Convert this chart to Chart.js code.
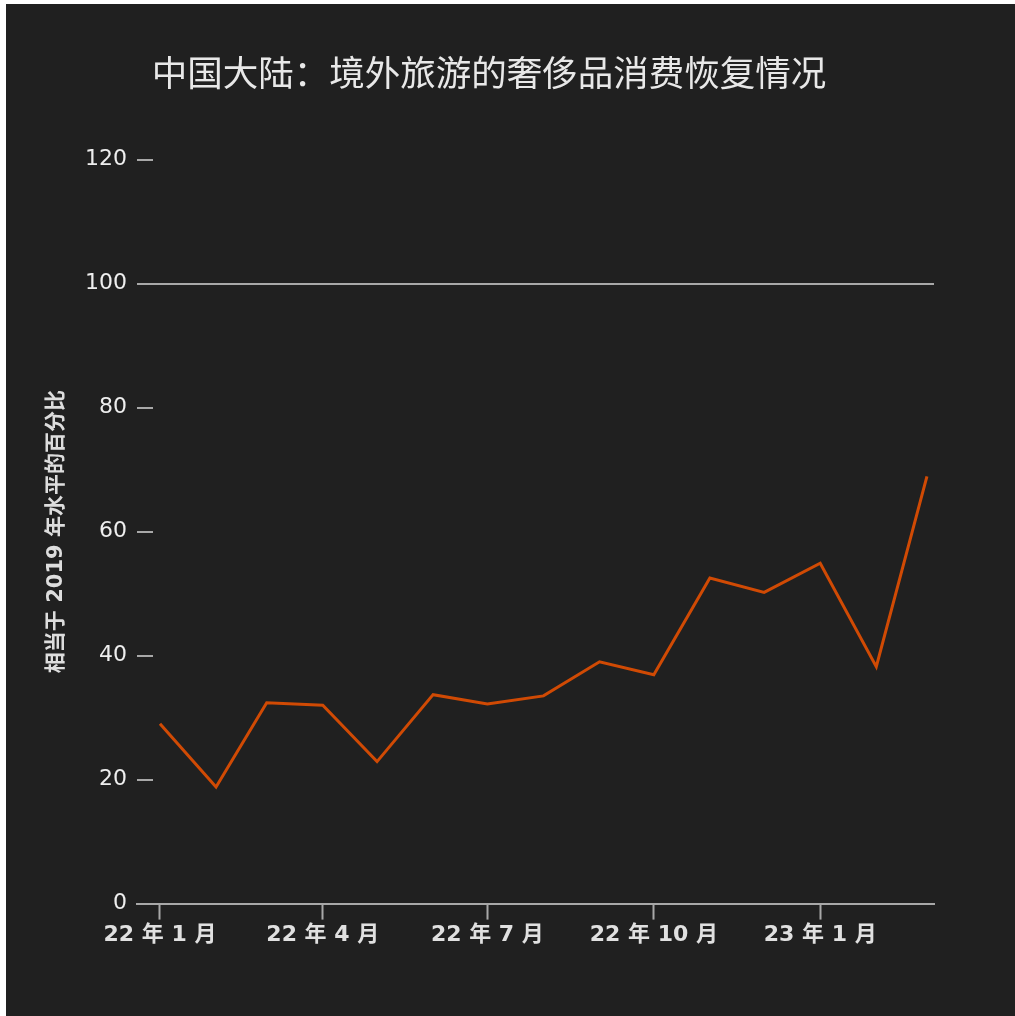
<!DOCTYPE html>
<html lang="zh-CN">
<head>
<meta charset="utf-8">
<title>中国大陆：境外旅游的奢侈品消费恢复情况</title>
<script src="https://cdn.jsdelivr.net/npm/chart.js@4.4.1/dist/chart.umd.min.js"></script>
<style>
    html, body { margin: 0; padding: 0; background: #ffffff; overflow: hidden; }
    #chart_box {
        position: absolute;
        left: 6px;
        top: 4px;
        width: 1009px;
        height: 1012px;
        background: #202020;
    }
</style>
</head>
<body>
<div id="chart_box"><canvas id="spend_chart"></canvas></div>
<script>
// monthly luxury spend of outbound travellers, % of the 2019 level
const MONTHS = ['2022-01', '2022-02', '2022-03', '2022-04', '2022-05', '2022-06', '2022-07', '2022-08',
    '2022-09', '2022-10', '2022-11', '2022-12', '2023-01', '2023-02', '2023-03'];
const RECOVERY = [29.0, 18.8, 32.4, 32.0, 22.9, 33.7, 32.2, 33.5, 39.0, 36.9, 52.5, 50.2, 54.9, 38.2, 68.9];

const TICK_MONTHS = ['2022-01', '2022-04', '2022-07', '2022-10', '2023-01'];
const TICK_LABELS = ['22 年 1 月', '22 年 4 月', '22 年 7 月', '22 年 10 月', '23 年 1 月'];
const Y_TICKS = [0, 20, 40, 60, 80, 100, 120];

const TITLE = '中国大陆：境外旅游的奢侈品消费恢复情况';
const Y_TITLE = '相当于 2019 年水平的百分比';

const LINE_COLOR = '#d04a04';
const AXIS_GREY = '#a8a8a8';
const LABEL_FONT = "'DejaVu Sans', 'Noto Sans CJK SC'";

// no date adapter here, so the x axis counts days from the first month
function day_of(month) {
    const [y, m] = month.split('-').map(Number);
    return (Date.UTC(y, m - 1, 1) - Date.UTC(2022, 0, 1)) / 86400000;
}

const points = MONTHS.map((m, i) => ({ x: day_of(m), y: RECOVERY[i] }));
const tick_days = TICK_MONTHS.map(day_of);

const ctx = document.getElementById('spend_chart').getContext('2d');
const chart = new Chart(ctx, {
    type: 'line',
    data: {
        datasets: [{
            label: Y_TITLE,
            data: points,
            borderColor: LINE_COLOR,
            backgroundColor: LINE_COLOR,
            borderWidth: 3,
            pointRadius: 0,
            tension: 0
        }]
    },
    options: {
        responsive: true,
        maintainAspectRatio: false,
        animation: false,
        layout: {
            padding: { left: 38, right: 81, top: 0, bottom: 66 }
        },
        plugins: {
            legend: { display: false },
            tooltip: { enabled: false },
            title: {
                display: true,
                text: TITLE,
                color: '#e8e8e8',
                font: { family: "'Noto Sans CJK SC'", size: 35.5, weight: 'normal', lineHeight: 1.2 },
                padding: { top: 47, bottom: 66 }
            }
        },
        scales: {
            x: {
                type: 'linear',
                min: -12.7,
                max: 427.9,
                afterBuildTicks: (scale) => {
                    scale.ticks = tick_days.map(v => ({ value: v }));
                },
                border: { display: true, color: AXIS_GREY, width: 2 },
                grid: {
                    drawOnChartArea: false,
                    drawTicks: true,
                    tickLength: 16,
                    tickColor: AXIS_GREY,
                    tickWidth: 2
                },
                ticks: {
                    autoSkip: false,
                    maxRotation: 0,
                    padding: 2,
                    color: '#e0e0e0',
                    font: { family: LABEL_FONT, size: 22, weight: '600', lineHeight: 1.2 },
                    callback: (value) => {
                        const i = tick_days.indexOf(value);
                        return i >= 0 ? TICK_LABELS[i] : '';
                    }
                }
            },
            y: {
                min: 0,
                max: 120,
                afterBuildTicks: (scale) => {
                    scale.ticks = Y_TICKS.map(v => ({ value: v }));
                },
                afterFit: (scale) => {
                    scale.width = 93;
                },
                border: { display: false },
                grid: {
                    // only the 100 line is drawn across, the rest are short ticks
                    color: (c) => (c.tick && c.tick.value === 100 ? AXIS_GREY : 'rgba(0,0,0,0)'),
                    lineWidth: 2,
                    drawTicks: true,
                    tickLength: -16,
                    tickColor: AXIS_GREY,
                    tickWidth: 2
                },
                ticks: {
                    padding: 26,
                    color: '#eeeeee',
                    font: { family: "'DejaVu Sans'", size: 22, weight: 'normal' }
                },
                title: {
                    display: true,
                    text: Y_TITLE,
                    color: '#dddddd',
                    font: { family: LABEL_FONT, size: 21, weight: 'bold', lineHeight: 1.2 },
                    padding: { top: 0, bottom: 0 }
                }
            }
        }
    }
});
</script>
</body>
</html>
